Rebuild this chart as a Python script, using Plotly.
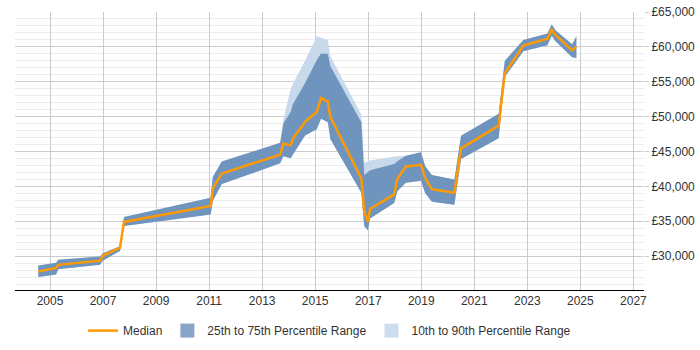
import plotly.graph_objects as go

# ---- data ----
years = [2004.56, 2005.23, 2005.31, 2006.89, 2006.99, 2007.64, 2007.79, 2011.06, 2011.14, 2011.48,
         2013.68, 2013.80, 2014.08, 2014.15, 2014.62, 2015.06, 2015.22, 2015.48, 2015.57, 2016.74,
         2016.85, 2016.99, 2017.07, 2017.98, 2018.10, 2018.42, 2018.99, 2019.15, 2019.40, 2020.25,
         2020.50, 2021.92, 2022.15, 2022.85, 2023.76, 2023.92, 2024.06, 2024.69, 2024.85]

median = [27800, 28300, 28750, 29350, 30050, 31200, 34900, 37200, 39700, 41850,
          44550, 46150, 45880, 46800, 49250, 50650, 52650, 52150, 49950, 41150,
          36400, 34900, 36760, 38850, 41100, 42850, 43100, 41150, 39600, 39070,
          45450, 48700, 56200, 60200, 61180, 62460, 61700, 59500, 60020]

p75 = [28650, 29030, 29490, 29960, 30420, 31430, 35600, 38380, 41390, 43570,
       46250, 49030, 50700, 51700, 54820, 58100, 59050, 58990, 57250, 49200,
       41630, 42000, 42300, 43200, 43600, 44400, 44900, 42900, 41625, 41000,
       47260, 50420, 58000, 61000, 61900, 63250, 62400, 60370, 61530]

p25 = [26990, 27360, 28100, 28750, 29350, 30740, 34300, 35970, 37920, 40320,
       43300, 44300, 44030, 44500, 47300, 48200, 49700, 49200, 46800, 39070,
       34300, 33700, 35400, 37600, 39300, 40500, 40800, 39000, 37800, 37360,
       43930, 46880, 55700, 59380, 60240, 61600, 60800, 58510, 58400]

p90 = [28650, 29030, 29490, 29960, 30420, 31430, 35600, 38380, 41390, 43570,
       46250, 49500, 54000, 54600, 58060, 61530, 61300, 60970, 58700, 50300,
       43470, 43500, 43700, 44250, 44300, 44400, 44900, 42900, 41625, 41000,
       47260, 50420, 58000, 61000, 61900, 63250, 62400, 60370, 61530]

p10 = [26990, 27360, 28100, 28750, 29350, 30740, 34300, 35970, 37920, 40320,
       43300, 44300, 44030, 44500, 47300, 48200, 49700, 49200, 46800, 39070,
       34200, 33600, 35400, 37600, 39300, 40500, 40800, 39000, 37800, 37360,
       43930, 46880, 55700, 59380, 60240, 61600, 60800, 58510, 58400]

x_ticks = [2005, 2007, 2009, 2011, 2013, 2015, 2017, 2019, 2021, 2023, 2025, 2027]
x_labels = [str(v) for v in x_ticks]
y_ticks = [30000, 35000, 40000, 45000, 50000, 55000, 60000, 65000]
y_labels = ["£{:,}".format(v) for v in y_ticks]

names = ["Median", "25th to 75th Percentile Range", "10th to 90th Percentile Range"]

# ---- styles ----
ORANGE = "#ff9900"
DARK = "rgb(111,149,191)"
LIGHT = "rgb(200,217,235)"
DARK_SW = "rgb(136,164,200)"
LIGHT_SW = "rgb(206,221,238)"
FONT = "Liberation Sans, Arial, sans-serif"

fig = go.Figure()

# 10-90 band
fig.add_trace(go.Scatter(x=years, y=p90, mode="lines", line=dict(width=0, color=LIGHT),
                         showlegend=False, hoverinfo="skip"))
fig.add_trace(go.Scatter(x=years, y=p10, mode="lines", line=dict(width=0, color=LIGHT),
                         fill="tonexty", fillcolor=LIGHT, showlegend=False, hoverinfo="skip"))
# 25-75 band
fig.add_trace(go.Scatter(x=years, y=p75, mode="lines", line=dict(width=0, color=DARK),
                         showlegend=False, hoverinfo="skip"))
fig.add_trace(go.Scatter(x=years, y=p25, mode="lines", line=dict(width=0, color=DARK),
                         fill="tonexty", fillcolor=DARK, showlegend=False, hoverinfo="skip"))
# median
fig.add_trace(go.Scatter(x=years, y=median, mode="lines", name=names[0],
                         line=dict(color=ORANGE, width=2.5), legendrank=1))

# legend swatches
fig.add_trace(go.Scatter(x=[None], y=[None], mode="markers", name=names[1],
                         marker=dict(symbol="square", size=14, color=DARK_SW), legendrank=2))
fig.add_trace(go.Scatter(x=[None], y=[None], mode="markers", name=names[2],
                         marker=dict(symbol="square", size=14, color=LIGHT_SW), legendrank=3))

fig.update_layout(
    width=700, height=350,
    margin=dict(l=15, r=56, t=5, b=58),
    paper_bgcolor="white", plot_bgcolor="white",
    font=dict(family=FONT, size=12, color="#333"),
    showlegend=True,
    legend=dict(orientation="h", x=0.5, xanchor="center", y=-0.146, yanchor="middle",
                font=dict(size=12, color="#333"), itemwidth=30, traceorder="normal"),
)

fig.update_xaxes(
    range=[2003.68, 2027.40],
    tickmode="array", tickvals=x_ticks, ticktext=x_labels,
    showgrid=True, gridcolor="#cccccc", gridwidth=1,
    showline=True, linecolor="#000000", linewidth=1,
    ticks="", zeroline=False,
    tickfont=dict(size=12, color="#333"),
)

fig.update_yaxes(
    range=[25139, 65000], side="right",
    tickmode="array", tickvals=y_ticks, ticktext=y_labels,
    showgrid=True, gridcolor="#cccccc", gridwidth=1,
    minor=dict(dtick=1000, tick0=0, showgrid=True, gridcolor="#ececec", gridwidth=1),
    ticks="outside", ticklen=4, tickcolor="#cccccc",
    ticklabeloverflow="allow",
    showline=False, zeroline=False,
    tickfont=dict(size=12, color="#333"),
)

fig.write_html("out.html")
